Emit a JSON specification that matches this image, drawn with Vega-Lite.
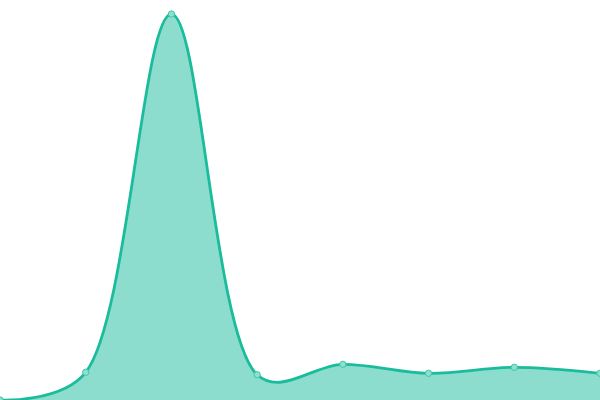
{
  "$schema": "https://vega.github.io/schema/vega-lite/v6.json",
  "width": 600,
  "height": 400,
  "padding": 0,
  "autosize": {"type": "none"},
  "view": {"stroke": null},
  "data": {"values": [
    {"i": 0, "v": 0},
    {"i": 1, "v": 27.7},
    {"i": 2, "v": 386},
    {"i": 3, "v": 25.3},
    {"i": 4, "v": 35.7},
    {"i": 5, "v": 26.7},
    {"i": 6, "v": 32.7},
    {"i": 7, "v": 26.7}
  ]},
  "encoding": {
    "x": {"field": "i", "type": "quantitative", "scale": {"domain": [0, 7], "nice": false, "zero": false}, "axis": null},
    "y": {"field": "v", "type": "quantitative", "scale": {"domain": [0, 400], "nice": false}, "axis": null}
  },
  "layer": [
    {"mark": {"type": "area", "interpolate": "catmull-rom", "tension": 0.4, "color": "#1abc9c", "opacity": 0.5}},
    {"mark": {"type": "line", "interpolate": "catmull-rom", "tension": 0.4, "color": "#1abc9c", "strokeWidth": 2.8}},
    {"mark": {"type": "point", "filled": false, "fill": "#8ce0cd", "stroke": "#3cc7aa", "strokeWidth": 1, "size": 40, "opacity": 1}}
  ]
}
